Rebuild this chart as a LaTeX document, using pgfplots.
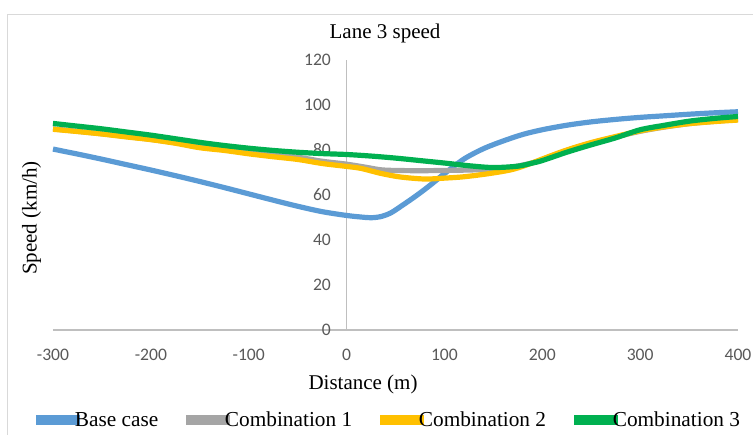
\documentclass[border=0pt]{standalone}
\usepackage{fontspec}
\setmainfont{Liberation Serif}
\newfontfamily\carlito{Carlito}
\usepackage{pgfplots}
\pgfplotsset{compat=1.18}
\definecolor{cblue}{HTML}{5B9BD5}
\definecolor{cgray}{HTML}{A5A5A5}
\definecolor{cyellow}{HTML}{FFC000}
\definecolor{cgreen}{HTML}{00B050}
\definecolor{axisgray}{HTML}{BFBFBF}
\definecolor{framegray}{HTML}{D9D9D9}
\definecolor{ticktext}{HTML}{595959}
\begin{document}
\begin{tikzpicture}
\useasboundingbox (0pt,0pt) rectangle (753pt,435pt);
\draw[framegray, line width=1pt] (7.5pt,-10pt) rectangle (800pt,420.5pt);
\begin{axis}[
  at={(53pt,105pt)}, anchor=south west,
  scale only axis, width=685pt, height=270pt,
  xmin=-300, xmax=400, ymin=0, ymax=120,
  enlargelimits=false, clip=false,
  axis x line=bottom, axis y line=center,
  axis line style={draw=axisgray, line width=1.2pt, -},
  hide obscured x ticks=false, hide obscured y ticks=false,
  xtick={-300,-200,-100,0,100,200,300,400},
  xticklabels={-300,-200,-100,0,100,200,300,400},
  ytick={0,20,40,60,80,100,120},
  yticklabels={0,20,40,60,80,100,120},
  major tick length=0pt,
  tick style={draw=none},
  ticklabel style={font=\carlito\fontsize{17.6}{20}\selectfont, text=ticktext},
  xticklabel style={anchor=north, inner sep=0pt, yshift=-19pt},
  yticklabel style={anchor=east, inner sep=0pt, xshift=-15.5pt},
  title={Lane 3 speed},
  title style={at={(axis description cs:0.4847,1.0556)}, anchor=base, font=\fontsize{21}{25}\selectfont, inner sep=0pt},
  xlabel={Distance (m)},
  xlabel style={at={(axis description cs:0.4526,-0.2222)}, anchor=base, font=\fontsize{21}{25}\selectfont, inner sep=0pt},
  legend columns=4,
  legend style={at={(axis description cs:-0.0248,-0.3333)}, anchor=west, draw=none, fill=none, inner sep=0pt,
    font=\fontsize{21.3}{25}\selectfont,
    nodes={inner sep=0pt},
    /tikz/every odd column/.append style={column sep=-5pt},
    /tikz/every even column/.append style={column sep=28pt}},
  legend image code/.code={\draw[#1, overlay] (0pt,0pt) -- (37pt,0pt); \path (0pt,-2.6pt) rectangle (38.5pt,2.6pt);},
  every axis plot/.append style={line width=5.2pt, smooth, no marks},
]
\addplot[cblue] coordinates {
(-300,80.4) (-275,78.2) (-250,75.9) (-225,73.5) (-200,71.1) (-175,68.6) (-150,66.0) (-125,63.3) (-100,60.5) (-75,57.7) (-50,55.0) (-25,52.6) (0,50.9) (15,50.2) (25,49.9) (35,50.4) (45,52.0) (55,54.8) (70,59.3) (85,64.2) (100,69.5) (120,76.0) (140,80.6) (160,84.0) (180,86.9) (200,89.0) (225,91.0) (250,92.5) (275,93.6) (300,94.5) (325,95.2) (350,95.9) (375,96.5) (400,97.0)
};
\addlegendentry{Base case}
\addplot[cgray] coordinates {
(-300,89.4) (-275,88.3) (-250,87.2) (-225,86.0) (-200,84.7) (-175,83.2) (-150,81.6) (-125,80.2) (-100,78.9) (-75,77.8) (-50,76.8) (-25,75.0) (0,73.7) (20,72.3) (35,71.2) (50,70.9) (75,70.8) (100,70.9) (125,71.1) (150,71.5) (170,72.5) (190,74.3) (200,75.8) (225,79.8) (250,83.1) (275,85.8) (300,88.3) (325,90.2) (350,91.7) (375,92.7) (400,93.6)
};
\addlegendentry{Combination 1}
\addplot[cyellow] coordinates {
(-300,89.2) (-275,88.2) (-250,87.1) (-225,85.8) (-200,84.6) (-175,83.0) (-150,81.0) (-125,79.8) (-100,78.3) (-75,77.0) (-50,75.8) (-25,74.0) (0,72.7) (15,71.8) (35,69.6) (55,68.0) (80,67.1) (100,67.5) (120,68.1) (147,69.6) (170,71.4) (190,74.3) (200,76.0) (225,80.0) (250,83.3) (275,86.0) (300,88.5) (325,90.3) (350,91.7) (375,92.6) (400,93.3)
};
\addlegendentry{Combination 2}
\addplot[cgreen] coordinates {
(-300,91.8) (-275,90.6) (-250,89.4) (-225,88.0) (-200,86.6) (-175,85.0) (-150,83.4) (-125,82.0) (-100,80.8) (-75,79.8) (-50,79.0) (-25,78.4) (0,78.0) (25,77.3) (50,76.4) (75,75.3) (100,74.2) (125,73.0) (150,72.2) (175,72.8) (190,74.2) (200,75.3) (225,79.0) (250,82.3) (275,85.4) (300,89.0) (325,91.0) (350,92.8) (375,94.0) (400,94.9)
};
\addlegendentry{Combination 3}
\node[rotate=90, font=\fontsize{21}{25}\selectfont, inner sep=0pt] at (axis description cs:-0.0311,0.4148) {Speed (km/h)};
\end{axis}
\end{tikzpicture}
\end{document}
